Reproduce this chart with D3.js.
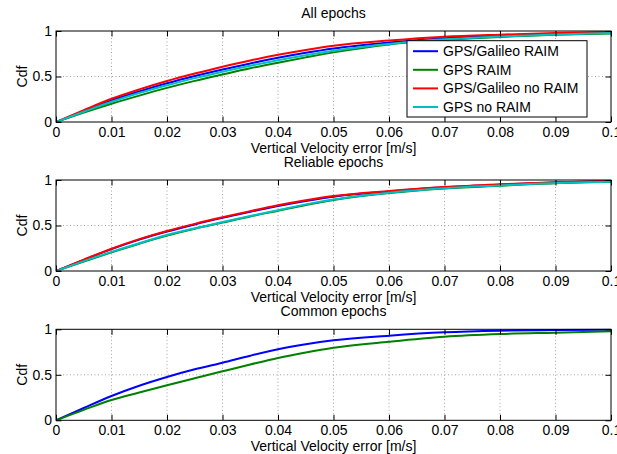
<!DOCTYPE html>
<html>
<head>
<meta charset="utf-8">
<script src="https://cdn.jsdelivr.net/npm/d3@7"></script>
<style>
  html, body { margin: 0; padding: 0; background: #fff; }
  svg { display: block; font-family: "Liberation Sans", Arial, Helvetica, sans-serif; }
</style>
</head>
<body>
<svg id="chart" width="617" height="454"></svg>
<script>
// ---------- data ----------
const errX = [0, 0.005, 0.01, 0.015, 0.02, 0.025, 0.03, 0.035, 0.04, 0.045, 0.05, 0.06, 0.07, 0.08, 0.09, 0.1];

const seriesNames = ["GPS/Galileo RAIM", "GPS RAIM", "GPS/Galileo no RAIM", "GPS no RAIM"];
const seriesColors = ["#0000ff", "#008000", "#ff0000", "#00bfbf"];

const panelTitles = ["All epochs", "Reliable epochs", "Common epochs"];

const allGalRaim   = [0, 0.120, 0.237, 0.335, 0.425, 0.505, 0.578, 0.644, 0.705, 0.760, 0.808, 0.873, 0.920, 0.950, 0.970, 0.985];
const allGpsRaim   = [0, 0.103, 0.200, 0.290, 0.375, 0.452, 0.522, 0.590, 0.652, 0.710, 0.765, 0.852, 0.902, 0.935, 0.958, 0.972];
const allGalNoRaim = [0, 0.130, 0.255, 0.358, 0.450, 0.532, 0.608, 0.676, 0.738, 0.792, 0.838, 0.895, 0.937, 0.960, 0.978, 0.990];
const allGpsNoRaim = [0, 0.113, 0.222, 0.318, 0.403, 0.482, 0.553, 0.618, 0.678, 0.733, 0.782, 0.858, 0.908, 0.940, 0.962, 0.977];

const relGalRaim   = [0, 0.122, 0.240, 0.345, 0.434, 0.512, 0.584, 0.652, 0.715, 0.770, 0.817, 0.875, 0.920, 0.950, 0.973, 0.988];
const relGpsRaim   = [0, 0.105, 0.205, 0.300, 0.390, 0.465, 0.532, 0.600, 0.662, 0.725, 0.780, 0.856, 0.906, 0.938, 0.965, 0.980];
const relGalNoRaim = [0, 0.125, 0.245, 0.350, 0.440, 0.518, 0.590, 0.658, 0.722, 0.777, 0.823, 0.879, 0.923, 0.952, 0.974, 0.989];
const relGpsNoRaim = [0, 0.108, 0.210, 0.305, 0.396, 0.470, 0.538, 0.605, 0.668, 0.732, 0.786, 0.860, 0.909, 0.940, 0.967, 0.982];

const comGalRaim   = [0, 0.135, 0.267, 0.380, 0.476, 0.560, 0.633, 0.710, 0.780, 0.835, 0.879, 0.930, 0.967, 0.985, 0.992, 0.996];
const comGpsRaim   = [0, 0.115, 0.223, 0.305, 0.385, 0.462, 0.538, 0.613, 0.685, 0.745, 0.797, 0.864, 0.919, 0.948, 0.963, 0.978];

const xTicks = [0, 0.01, 0.02, 0.03, 0.04, 0.05, 0.06, 0.07, 0.08, 0.09, 0.1];
const xTickLabels = ["0", "0.01", "0.02", "0.03", "0.04", "0.05", "0.06", "0.07", "0.08", "0.09", "0.1"];
const yTicks = [0, 0.5, 1];
const yTickLabels = ["0", "0.5", "1"];
const xLabel = "Vertical Velocity error [m/s]";
const yLabel = "Cdf";

// ---------- layout ----------
const panels = [
  { title: panelTitles[0], top: 31,    series: [allGalRaim, allGpsRaim, allGalNoRaim, allGpsNoRaim], idx: [0,1,2,3], legend: true },
  { title: panelTitles[1], top: 180,   series: [relGalRaim, relGpsRaim, relGalNoRaim, relGpsNoRaim], idx: [0,1,2,3], legend: false },
  { title: panelTitles[2], top: 329.3, series: [comGalRaim, comGpsRaim], idx: [0,1], legend: false }
];
const left = 56, right = 611, ph = 91;
const tick = 5.5;
const fs = 14;

const svg = d3.select("#chart");
const x = d3.scaleLinear().domain([0, 0.1]).range([left, right]);

panels.forEach((p, pi) => {
  const y = d3.scaleLinear().domain([0, 1]).range([p.top + ph, p.top]);
  const g = svg.append("g");

  g.append("rect").attr("x", left).attr("y", p.top).attr("width", right - left).attr("height", ph).attr("fill", "#fff");

  // grid
  g.append("g").selectAll("line").data(xTicks.slice(1, -1)).join("line")
    .attr("x1", d => x(d)).attr("x2", d => x(d))
    .attr("y1", p.top).attr("y2", p.top + ph)
    .attr("stroke", "#8c8c8c").attr("stroke-width", 0.8).attr("stroke-dasharray", "1,2.5");
  g.append("g").selectAll("line").data(yTicks.slice(1, -1)).join("line")
    .attr("x1", left).attr("x2", right)
    .attr("y1", d => y(d)).attr("y2", d => y(d))
    .attr("stroke", "#8c8c8c").attr("stroke-width", 0.8).attr("stroke-dasharray", "1,2.5");

  const cid = "clip" + pi;
  svg.append("clipPath").attr("id", cid).append("rect")
    .attr("x", left).attr("y", p.top - 1).attr("width", right - left).attr("height", ph + 1);

  const line = d3.line().x((d, i) => x(errX[i])).y(d => y(d)).curve(d3.curveMonotoneX);
  const cg = g.append("g").attr("clip-path", `url(#${cid})`);
  p.series.forEach((s, k) => {
    cg.append("path").datum(s).attr("d", line)
      .attr("fill", "none").attr("stroke", seriesColors[p.idx[k]]).attr("stroke-width", 2)
      .attr("stroke-linejoin", "round");
  });

  const xb = d3.axisBottom(x).tickValues(xTicks).tickFormat((d, i) => xTickLabels[i]).tickSize(-tick).tickPadding(5);
  const xt = d3.axisTop(x).tickValues(xTicks).tickFormat("").tickSize(-tick);
  const yl = d3.axisLeft(y).tickValues(yTicks).tickFormat((d, i) => yTickLabels[i]).tickSize(-tick).tickPadding(4);
  const yr = d3.axisRight(y).tickValues(yTicks).tickFormat("").tickSize(-tick);

  const styleAxis = sel => {
    sel.select(".domain").remove();
    sel.selectAll(".tick line").attr("stroke", "#000").attr("stroke-width", 1);
    sel.selectAll("text").attr("fill", "#000").style("font-size", fs + "px").style("font-family", "Liberation Sans, Arial, sans-serif");
  };
  g.append("g").attr("transform", `translate(0,${p.top + ph})`).call(xb).call(styleAxis);
  g.append("g").attr("transform", `translate(0,${p.top})`).call(xt).call(styleAxis);
  g.append("g").attr("transform", `translate(${left},0)`).call(yl).call(styleAxis);
  g.append("g").attr("transform", `translate(${right},0)`).call(yr).call(styleAxis);

  g.append("rect").attr("x", left).attr("y", p.top).attr("width", right - left).attr("height", ph)
    .attr("fill", "none").attr("stroke", "#000").attr("stroke-width", 1);

  g.append("text").attr("x", (left + right) / 2).attr("y", p.top - 13)
    .attr("text-anchor", "middle").style("font-size", fs + "px").text(p.title);
  g.append("text").attr("x", (left + right) / 2).attr("y", p.top + ph + 30.5)
    .attr("text-anchor", "middle").style("font-size", fs + "px").text(xLabel);
  g.append("text").attr("transform", `translate(27,${p.top + ph / 2}) rotate(-90)`)
    .attr("text-anchor", "middle").style("font-size", fs + "px").text(yLabel);

  if (p.legend) {
    const lx = 407, ly = 40.7, lw = 180, lh = 76.3;
    const lg = g.append("g");
    lg.append("rect").attr("x", lx).attr("y", ly).attr("width", lw).attr("height", lh)
      .attr("fill", "#fff").attr("stroke", "#000").attr("stroke-width", 1);
    const rows = d3.range(seriesNames.length);
    const ry = d3.scalePoint().domain(rows).range([51.2, 107]);
    lg.selectAll("line.leg").data(rows).join("line").attr("class", "leg")
      .attr("x1", lx + 6).attr("x2", lx + 31)
      .attr("y1", d => ry(d)).attr("y2", d => ry(d))
      .attr("stroke", d => seriesColors[d]).attr("stroke-width", 2);
    lg.selectAll("text.leg").data(rows).join("text").attr("class", "leg")
      .attr("x", lx + 36).attr("y", d => ry(d)).attr("dy", "0.35em")
      .style("font-size", fs + "px").text(d => seriesNames[d]);
  }
});
</script>
</body>
</html>
